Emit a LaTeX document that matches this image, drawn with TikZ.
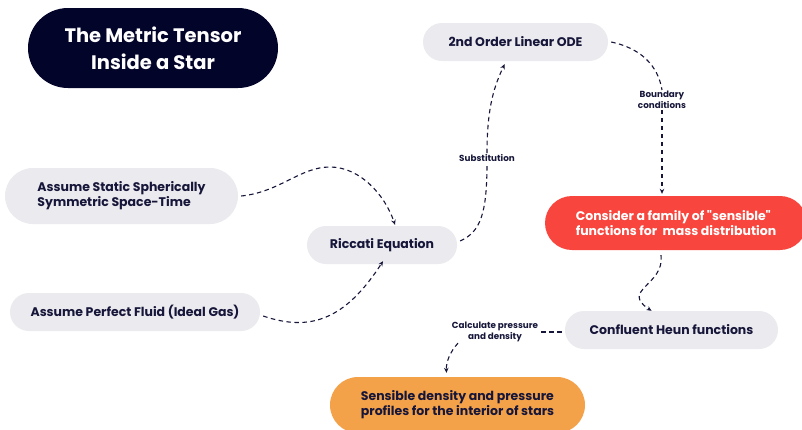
\documentclass[tikz,border=0pt]{standalone}
\usepackage{fontspec}
\setmainfont{Poppins}
\newfontfamily\qfont{Poppins}
\usetikzlibrary{arrows.meta,calc}
\definecolor{navy}{HTML}{03042A}
\definecolor{pillgray}{HTML}{EBEAEE}
\definecolor{ink}{HTML}{16163A}
\definecolor{redpill}{HTML}{F8453D}
\definecolor{orangepill}{HTML}{F4A24A}
\begin{document}
\begin{tikzpicture}[x=1pt,y=-1pt,
  pill/.style={fill=pillgray,draw=none,text=ink,font=\fontsize{12.5}{15}\selectfont\bfseries,inner sep=0pt},
  lbl/.style={fill=white,text=ink,font=\fontsize{8.8}{11}\selectfont\bfseries,inner sep=1pt,align=center},
  conn/.style={draw=ink,line width=1.1pt,dash pattern=on 4.5pt off 3.5pt,-{Stealth[length=5pt,width=4.5pt]}},
  seg/.style={draw=ink,line width=1.1pt,dash pattern=on 4.5pt off 3.5pt}]
\clip (0,0) rectangle (802,429);
\fill[white] (0,0) rectangle (802,429);
% nodes
\node[pill,fill=navy,text=white,minimum width=250pt,minimum height=80pt,rounded corners=40pt,align=center,font=\fontsize{19.5}{27}\selectfont\bfseries] (title) at (153,48) {The Metric Tensor\\Inside a Star};
\node[pill,minimum width=185pt,minimum height=38pt,rounded corners=19pt] (ode) at (515.5,42) {2nd Order Linear ODE};
\node[pill,minimum width=233pt,minimum height=56pt,rounded corners=28pt,align=left] (st) at (121.5,196) {Assume Static Spherically\\Symmetric Space-Time};
\node[pill,minimum width=150pt,minimum height=38pt,rounded corners=19pt] (ric) at (382,245) {Riccati Equation};
\node[pill,minimum width=250pt,minimum height=38pt,rounded corners=19pt] (pf) at (135,312) {Assume Perfect Fluid (Ideal Gas)};
\node[pill,fill=redpill,text=white,minimum width=262pt,minimum height=54pt,rounded corners=27pt,align=left] (con) at (676,223) {Consider a family of {\qfont"}sensible{\qfont"}\\functions for\ \ mass distribution};
\node[pill,minimum width=213pt,minimum height=38pt,rounded corners=19pt] (heun) at (671.5,330) {Confluent Heun functions};
\node[pill,fill=orangepill,minimum width=255pt,minimum height=56pt,rounded corners=28pt,align=left] (sen) at (457.5,405) {Sensible density and pressure\\profiles for the interior of stars};
% labels
\node[lbl] (sub) at (487,158) {Substitution};
\node[lbl] (bc) at (662,100) {Boundary\\conditions};
\node[lbl] (cpd) at (495,332) {Calculate pressure\\and density};
% connectors
\draw[conn] (st.east) ++(3,0) .. controls (280,192) and (300,167) .. (330,167) .. controls (360,167) and (385,195) .. ($(ric.north)+(13,-1)$);
\draw[conn] ($(pf.east)+(3,4)$) .. controls (310,332) and (345,320) .. ($(ric.south)+(1,-3)$);
\draw[seg] ($(ric.east)+(3,-4)$) .. controls (480,232) and (487,215) .. (sub.south);
\draw[conn] (sub.north) .. controls (487,105) and (495,85) .. ($(ode.south)+(-11,3)$);
\draw[seg] ($(ode.east)+(3,0)$) .. controls (640,48) and (658,65) .. (bc.north);
\draw[conn] (bc.south) -- ($(con.north)+(-14,-2)$);
\draw[conn] ($(con.south)+(-15,5)$) .. controls (665,285) and (620,290) .. ($(heun.north)+(-20,0)$);
\draw[seg] ($(heun.west)+(-3,2)$) -- (cpd.east);
\draw[conn] ($(cpd.south)+(-37,0)$) .. controls (450,352) and (446,362) .. ($(sen.north)+(-11,-4)$);
\end{tikzpicture}
\end{document}
